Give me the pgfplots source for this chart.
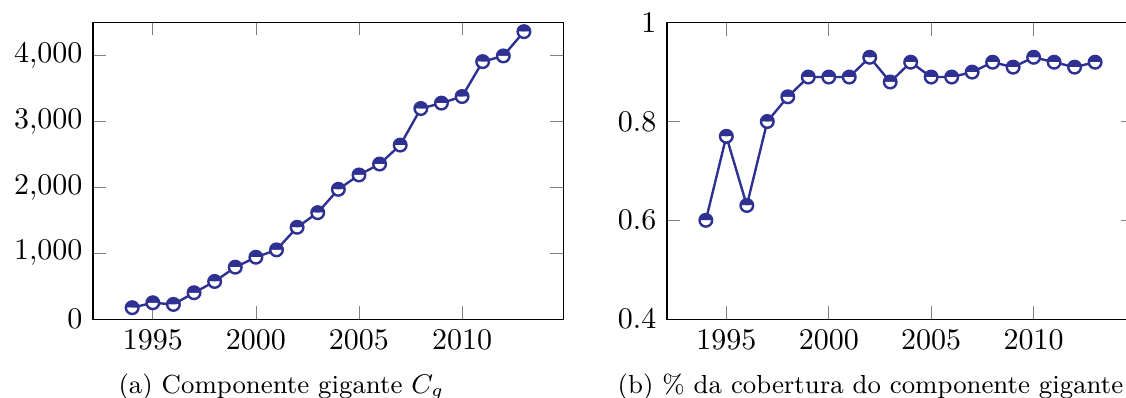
\documentclass[border=0pt]{standalone}
\usepackage{pgfplots}
\pgfplotsset{compat=1.18}
\usetikzlibrary{plotmarks}
\definecolor{serie}{RGB}{46,49,146}

\pgfplotsset{
  anos/.style={
    scale only axis,
    anchor=south west,
    height=98.8pt,
    xtick={1995,2000,2005,2010},
    xticklabel style={/pgf/number format/1000 sep=},
    enlarge x limits=0.1,
  },
  serie/.style={
    color=serie, thick,
    mark=halfcircle*, mark size=2.1pt,
    mark options={solid},
  },
}

\begin{document}
\begin{tikzpicture}
% (a) tamanho do componente gigante
\begin{axis}[anos, at={(31pt,26.3pt)}, width=156.7pt,
  ymin=0, ymax=4500, ytick={0,1000,2000,3000,4000}]
\addplot[serie] coordinates {
  (1994,173) (1995,248) (1996,223) (1997,400) (1998,571)
  (1999,788) (2000,939) (2001,1051) (2002,1394) (2003,1616)
  (2004,1970) (2005,2188) (2006,2354) (2007,2642) (2008,3197)
  (2009,3279) (2010,3379) (2011,3909) (2012,3995) (2013,4364)
};
\end{axis}
% (b) cobertura do componente gigante
\begin{axis}[anos, at={(222.3pt,26.3pt)}, width=155.7pt,
  ymin=0.4, ymax=1, ytick={0.4,0.6,0.8,1}]
\addplot[serie] coordinates {
  (1994,0.60) (1995,0.77) (1996,0.63) (1997,0.80) (1998,0.85)
  (1999,0.89) (2000,0.89) (2001,0.89) (2002,0.93) (2003,0.88)
  (2004,0.92) (2005,0.89) (2006,0.89) (2007,0.90) (2008,0.92)
  (2009,0.91) (2010,0.93) (2011,0.92) (2012,0.91) (2013,0.92)
};
\end{axis}
\node[anchor=base west, inner sep=0pt, font=\fontsize{8.7}{10.5}\selectfont] at (39.3pt,1.6pt) {(a) Componente gigante $C_g$};
\node[anchor=base west, inner sep=0pt, font=\fontsize{8.7}{10.5}\selectfont] at (205.7pt,1.6pt) {(b) \% da cobertura do componente gigante};
\pgfresetboundingbox
\useasboundingbox (0,0) rectangle (375.33pt,132.67pt);
\end{tikzpicture}
\end{document}
